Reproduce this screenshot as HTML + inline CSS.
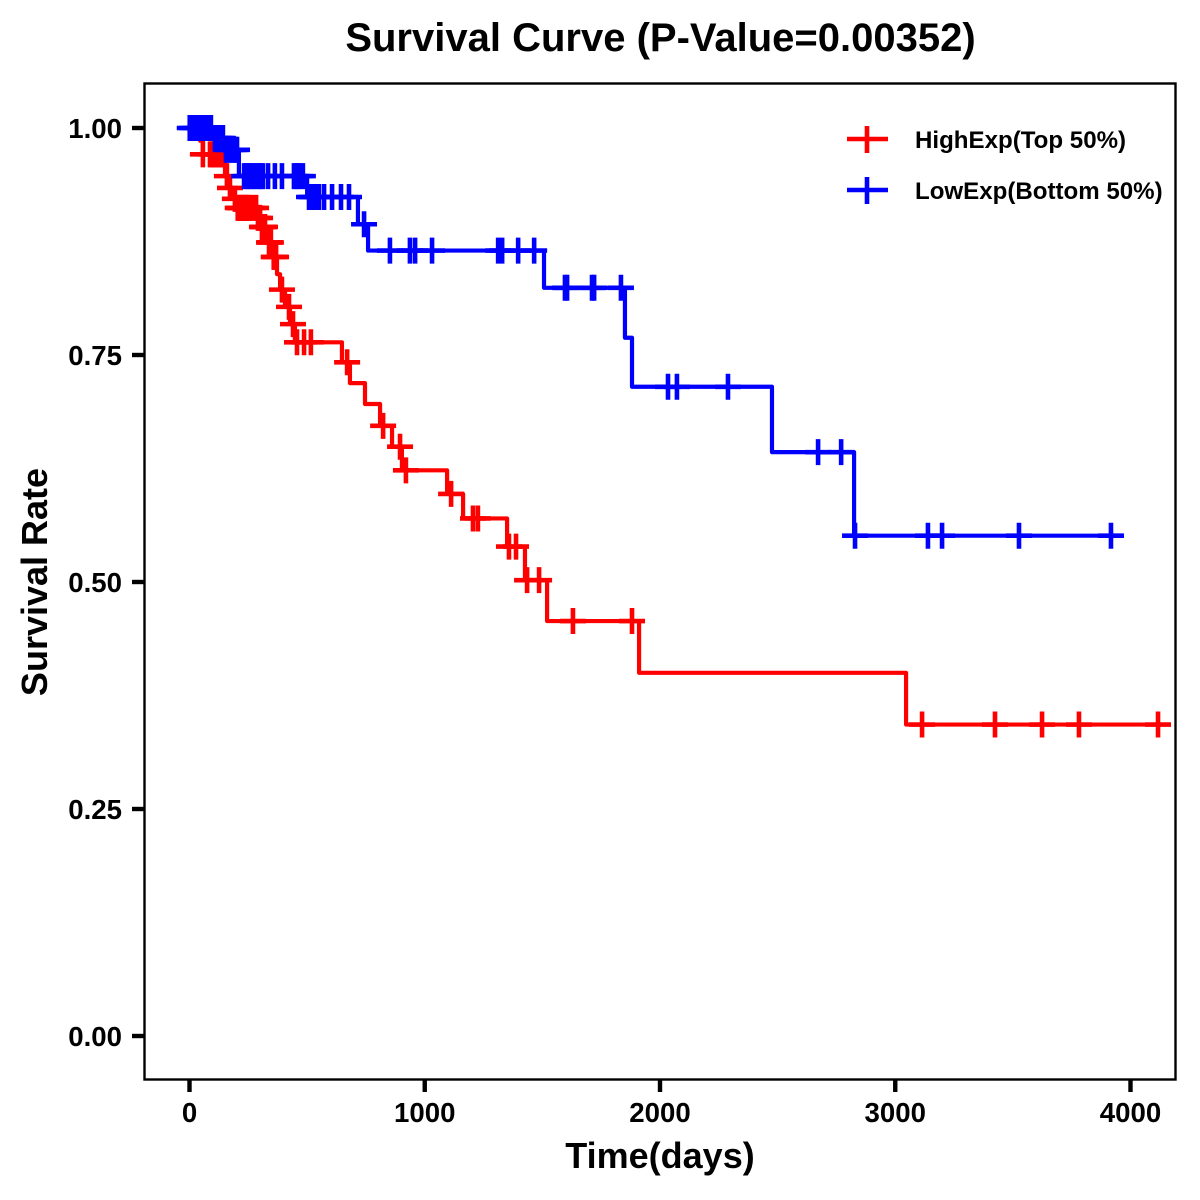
<!DOCTYPE html>
<html lang="en">
<head>
<meta charset="utf-8">
<title>Survival Curve</title>
<style>
html,body{margin:0;padding:0;background:#fff;width:1200px;height:1200px;overflow:hidden}
svg{display:block}
text{font-family:"Liberation Sans",Arial,sans-serif;font-weight:bold;fill:#000}
</style>
</head>
<body>
<svg id="chart" xmlns="http://www.w3.org/2000/svg" width="1200" height="1200" viewBox="0 0 1200 1200">
  <rect x="0" y="0" width="1200" height="1200" fill="#fff"/>
  <text x="660.5" y="51" font-size="40" text-anchor="middle">Survival Curve (P-Value=0.00352)</text>
  <text x="660" y="1168" font-size="36" text-anchor="middle">Time(days)</text>
  <text x="0" y="0" font-size="36" text-anchor="middle" transform="translate(47,582) rotate(-90)">Survival Rate</text>
  <g id="marks"></g>
  <g id="axes"></g>
  <rect x="144.5" y="83.5" width="1031" height="996" fill="none" stroke="#000" stroke-width="2.4"/>
  <g>
    <g>
      <line x1="847" x2="888" y1="139" y2="139" stroke="#ff0000" stroke-width="4.4"/>
      <line x1="867" x2="867" y1="126" y2="153" stroke="#ff0000" stroke-width="4.6"/>
      <text x="915" y="148" font-size="24.1">HighExp(Top 50%)</text>
    </g>
    <g>
      <line x1="847" x2="888" y1="190" y2="190" stroke="#0000ff" stroke-width="4.4"/>
      <line x1="867" x2="867" y1="177" y2="204" stroke="#0000ff" stroke-width="4.6"/>
      <text x="915" y="199" font-size="24.1">LowExp(Bottom 50%)</text>
    </g>
  </g>
</svg>
<script>
const xTicks = [0, 1000, 2000, 3000, 4000];
const yTicks = [0, 0.25, 0.5, 0.75, 1];
const yTickLabels = ['0.00', '0.25', '0.50', '0.75', '1.00'];

const highEventDays = [45, 57, 151, 168, 185, 198, 291, 308, 325, 351, 372, 385, 406, 427, 448, 648, 682, 746, 810, 861, 903, 1095, 1163, 1350, 1426, 1520, 1911, 3046];
const highSurvival = [0.986, 0.971, 0.947, 0.934, 0.922, 0.912, 0.901, 0.891, 0.874, 0.858, 0.839, 0.822, 0.803, 0.784, 0.764, 0.742, 0.719, 0.696, 0.672, 0.649, 0.623, 0.597, 0.570, 0.539, 0.502, 0.457, 0.400, 0.343];
const highCensorDays = [57, 87, 92, 100, 108, 115, 122, 128, 134, 140, 159, 172, 193, 205, 210, 215, 220, 225, 230, 236, 240, 245, 250, 257, 270, 283, 291, 300, 308, 312, 317, 321, 338, 342, 346, 358, 362, 368, 393, 423, 440, 457, 487, 516, 670, 823, 895, 920, 1112, 1205, 1226, 1358, 1388, 1435, 1486, 1630, 1881, 3114, 3424, 3624, 3781, 4117];

const lowEventDays = [100, 151, 210, 500, 716, 759, 1507, 1851, 1881, 2476, 2825];
const lowSurvival = [0.989, 0.976, 0.947, 0.924, 0.894, 0.865, 0.824, 0.769, 0.715, 0.643, 0.551];
const lowCensorDays = [1, 11, 23, 36, 49, 62, 74, 83, 91, 108, 117, 125, 134, 142, 155, 164, 172, 180, 189, 197, 202, 232, 240, 249, 257, 265, 274, 287, 296, 304, 312, 334, 363, 393, 444, 452, 460, 470, 482, 508, 516, 525, 534, 542, 550, 572, 606, 644, 678, 742, 852, 937, 959, 1031, 1312, 1329, 1397, 1465, 1596, 1605, 1711, 1720, 1834, 2034, 2072, 2289, 2672, 2770, 2829, 3139, 3199, 3526, 3917];

const NS = 'http://www.w3.org/2000/svg';
const xScale = function (d) { return 189.5 + d * 0.23525; };
const yScale = function (s) { return 1036 - s * 908; };

function survivalAt(t, days, surv) {
  let s = 1;
  for (let i = 0; i < days.length; i++) {
    if (days[i] <= t) s = surv[i];
  }
  return s;
}

function drawSeries(days, surv, censors, color, seriesName) {
  const marks = document.getElementById('marks');
  const endDay = Math.max.apply(null, censors.concat(days));
  let d = 'M' + xScale(0) + ' ' + yScale(1);
  let cur = 1;
  for (let i = 0; i < days.length; i++) {
    d += 'L' + xScale(days[i]) + ' ' + yScale(cur);
    cur = surv[i];
    d += 'L' + xScale(days[i]) + ' ' + yScale(cur);
  }
  d += 'L' + xScale(endDay) + ' ' + yScale(cur);
  const path = document.createElementNS(NS, 'path');
  path.setAttribute('d', d);
  path.setAttribute('fill', 'none');
  path.setAttribute('stroke', color);
  path.setAttribute('stroke-width', '4.2');
  path.setAttribute('stroke-linejoin', 'round');
  
  
  path.setAttribute('class', seriesName);
  marks.appendChild(path);
  censors.forEach(function (t) {
    const px = xScale(t);
    const py = yScale(survivalAt(t, days, surv));
    const mark = document.createElementNS(NS, 'path');
    mark.setAttribute('d', 'M' + (px - 13) + ' ' + py + 'H' + (px + 13) + 'M' + px + ' ' + (py - 13) + 'V' + (py + 13));
    mark.setAttribute('fill', 'none');
    mark.setAttribute('stroke', color);
    mark.setAttribute('stroke-width', '4.6');
    
    
    mark.setAttribute('class', seriesName);
    marks.appendChild(mark);
  });
}

function drawAxes() {
  const axes = document.getElementById('axes');
  xTicks.forEach(function (t) {
    const tick = document.createElementNS(NS, 'line');
    tick.setAttribute('x1', xScale(t));
    tick.setAttribute('x2', xScale(t));
    tick.setAttribute('y1', 1080);
    tick.setAttribute('y2', 1092);
    tick.setAttribute('stroke', '#000');
    tick.setAttribute('stroke-width', '4.4');
    
    
    axes.appendChild(tick);
    const label = document.createElementNS(NS, 'text');
    label.setAttribute('x', xScale(t));
    label.setAttribute('y', 1122);
    label.setAttribute('font-size', '27.6');
    label.setAttribute('text-anchor', 'middle');
    
    
    label.textContent = String(t);
    axes.appendChild(label);
  });
  yTicks.forEach(function (v, i) {
    const tick = document.createElementNS(NS, 'line');
    tick.setAttribute('x1', 132);
    tick.setAttribute('x2', 144);
    tick.setAttribute('y1', yScale(v));
    tick.setAttribute('y2', yScale(v));
    tick.setAttribute('stroke', '#000');
    tick.setAttribute('stroke-width', '4.4');
    
    
    axes.appendChild(tick);
    const label = document.createElementNS(NS, 'text');
    label.setAttribute('x', 122);
    label.setAttribute('y', yScale(v) + 10);
    label.setAttribute('font-size', '27.6');
    label.setAttribute('text-anchor', 'end');
    
    
    label.textContent = yTickLabels[i];
    axes.appendChild(label);
  });
}

drawSeries(highEventDays, highSurvival, highCensorDays, '#ff0000', 'series-high');
drawSeries(lowEventDays, lowSurvival, lowCensorDays, '#0000ff', 'series-low');
drawAxes();
</script>
</body>
</html>
